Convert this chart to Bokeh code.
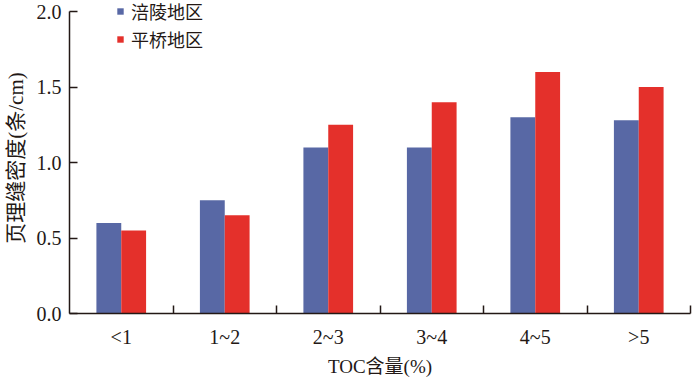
from bokeh.plotting import figure
from bokeh.models import (FixedTicker, Legend, LegendItem, Range1d, ColumnDataSource,
                          CustomJSTickFormatter, PrintfTickFormatter)
from bokeh.embed import file_html
from bokeh.resources import INLINE

categories = ["<1", "1~2", "2~3", "3~4", "4~5", ">5"]
fuling = [0.6, 0.75, 1.1, 1.1, 1.3, 1.28]
pingqiao = [0.55, 0.65, 1.25, 1.4, 1.6, 1.5]
series_names = ["涪陵地区", "平桥地区"]
y_ticks = [0.0, 0.5, 1.0, 1.5, 2.0]
x_title = "TOC含量(%)"
y_title = "页理缝密度(条/cm)"

FONT = "'Liberation Serif', 'Noto Sans CJK SC', serif"
BLUE = "#5868A5"
RED = "#E4302B"
AXIS = "#231815"

centers = [i + 0.5 for i in range(len(categories))]
bw = 0.24
src = ColumnDataSource(dict(
    xb=[c - bw / 2 for c in centers],
    xr=[c + bw / 2 for c in centers],
    fl=fuling, pq=pingqiao,
))

y_max = y_ticks[-1]
p = figure(width=692, height=379, output_backend="svg", toolbar_location=None,
           x_range=Range1d(0, len(categories)), y_range=Range1d(0, y_max * 1.03),
           min_border_left=66, min_border_right=2, min_border_top=2, min_border_bottom=63)
p.outline_line_color = None
p.xgrid.visible = False
p.ygrid.visible = False

rb = p.vbar(x="xb", top="fl", width=bw, source=src, fill_color=BLUE, line_color=None)
rr = p.vbar(x="xr", top="pq", width=bw, source=src, fill_color=RED, line_color=None)

# x axis
xa = p.xaxis[0]
xa.ticker = FixedTicker(ticks=centers, minor_ticks=list(range(1, len(categories) + 1)))
xa.formatter = CustomJSTickFormatter(args=dict(labels=categories),
                                     code="return labels[Math.floor(tick)];")
xa.major_tick_line_color = None
xa.major_tick_in = 0
xa.major_tick_out = 0
xa.minor_tick_in = 8
xa.minor_tick_out = 0
xa.minor_tick_line_color = AXIS
xa.minor_tick_line_width = 1.5
xa.axis_line_color = AXIS
xa.axis_line_width = 1.5
xa.major_label_text_font = FONT
xa.major_label_text_font_size = "20px"
xa.major_label_text_color = "#231815"
xa.major_label_standoff = 12
xa.axis_label = x_title
xa.axis_label_text_font = FONT
xa.axis_label_text_font_size = "19px"
xa.axis_label_text_font_style = "normal"
xa.axis_label_text_color = "#231815"
xa.axis_label_standoff = 5

# y axis
ya = p.yaxis[0]
ya.ticker = FixedTicker(ticks=y_ticks, minor_ticks=[])
ya.bounds = (y_ticks[0], y_max)
ya.formatter = PrintfTickFormatter(format="%.1f")
ya.major_tick_in = 8
ya.major_tick_out = 0
ya.major_tick_line_color = AXIS
ya.major_tick_line_width = 1.5
ya.axis_line_color = AXIS
ya.axis_line_width = 1.5
ya.major_label_text_font = FONT
ya.major_label_text_font_size = "20px"
ya.major_label_text_color = "#231815"
ya.major_label_standoff = 8
ya.axis_label = y_title
ya.axis_label_text_font = FONT
ya.axis_label_text_font_size = "21px"
ya.axis_label_text_font_style = "normal"
ya.axis_label_text_color = "#231815"
ya.axis_label_standoff = 6

legend = Legend(items=[LegendItem(label=series_names[0], renderers=[rb]),
                       LegendItem(label=series_names[1], renderers=[rr])],
                location=(47, 261), orientation="vertical")
legend.border_line_color = None
legend.background_fill_alpha = 0
legend.label_text_font = FONT
legend.label_text_font_size = "18px"
legend.label_text_color = "#231815"
legend.glyph_width = 8
legend.glyph_height = 8
legend.label_standoff = 7
legend.spacing = 2
legend.padding = 0
legend.margin = 0
p.add_layout(legend)

open("out.html", "w").write(file_html(p, INLINE))
